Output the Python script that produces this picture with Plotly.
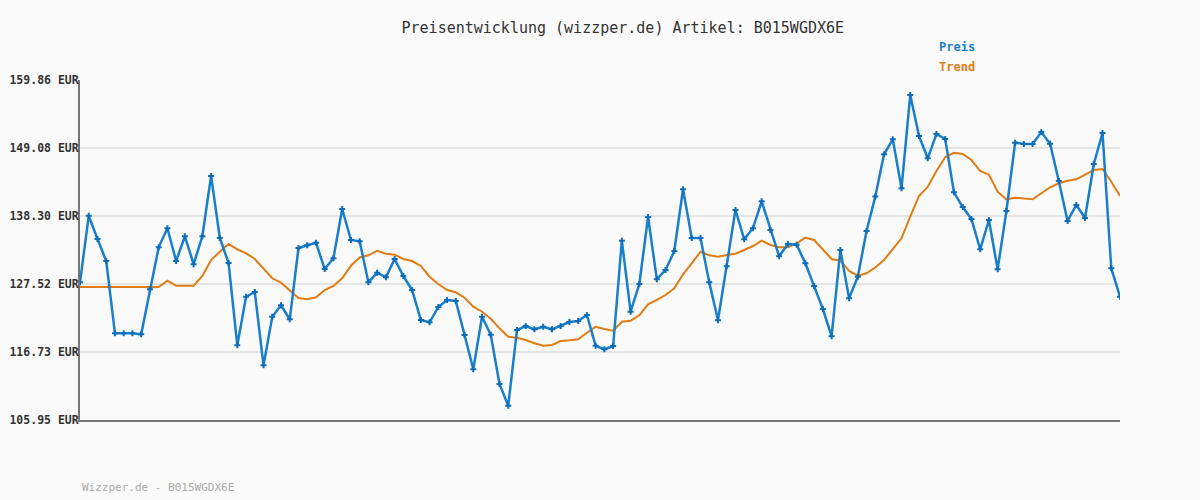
import plotly.graph_objects as go

preis = [127.78, 138.34, 134.65, 131.16, 119.70, 119.70, 119.70, 119.54, 126.67, 133.33,
         136.35, 131.16, 135.08, 130.64, 135.08, 144.64, 134.81, 130.84, 117.79, 125.50,
         126.25, 114.62, 122.33, 124.14, 121.92, 133.22, 133.65, 134.06, 129.89, 131.59,
         139.41, 134.49, 134.28, 127.78, 129.31, 128.58, 131.48, 128.78, 126.56, 121.81,
         121.44, 123.87, 124.98, 124.82, 119.43, 113.99, 122.33, 119.48, 111.66, 108.22,
         120.22, 120.85, 120.33, 120.74, 120.33, 120.85, 121.49, 121.65, 122.60, 117.73,
         117.16, 117.68, 134.38, 123.12, 127.51, 138.14, 128.28, 129.73, 132.75, 142.53,
         134.81, 134.81, 127.78, 121.76, 130.32, 139.25, 134.60, 136.35, 140.63, 136.08,
         131.91, 133.86, 133.75, 130.80, 127.20, 123.55, 119.22, 132.90, 125.25, 128.67,
         135.92, 141.39, 148.08, 150.46, 142.69, 157.48, 150.98, 147.44, 151.30, 150.50,
         142.05, 139.72, 137.82, 133.02, 137.66, 129.84, 139.09, 149.92, 149.71, 149.71,
         151.61, 149.76, 143.85, 137.50, 140.04, 137.98, 146.54, 151.46, 130.00, 125.50]

trend = [127.04, 127.04, 127.04, 127.04, 127.04, 127.04, 127.04, 127.04, 127.04, 127.04,
         128.04, 127.25, 127.25, 127.25, 128.78, 131.32, 132.63, 133.86, 133.02, 132.38,
         131.48, 130.01, 128.42, 127.72, 126.56, 125.29, 125.09, 125.41, 126.56, 127.20,
         128.42, 130.42, 131.72, 132.06, 132.79, 132.32, 132.16, 131.48, 131.16, 130.37,
         128.67, 127.52, 126.56, 126.20, 125.34, 123.91, 123.12, 122.01, 120.49, 119.16,
         119.00, 118.63, 118.11, 117.73, 117.84, 118.48, 118.59, 118.75, 119.79, 120.74,
         120.38, 120.11, 121.54, 121.70, 122.55, 124.29, 124.98, 125.77, 126.83, 129.05,
         130.80, 132.63, 132.06, 131.84, 132.11, 132.32, 132.90, 133.54, 134.38, 133.70,
         133.33, 133.33, 133.97, 134.86, 134.49, 133.02, 131.48, 131.21, 129.58, 128.83,
         129.21, 130.13, 131.32, 133.06, 134.76, 138.19, 141.47, 142.94, 145.43, 147.60,
         148.33, 148.13, 147.17, 145.43, 144.85, 142.15, 140.94, 141.20, 141.10, 140.94,
         141.90, 142.85, 143.48, 143.89, 144.12, 144.91, 145.59, 145.75, 143.73, 141.47]

y_ticks = [105.95, 116.73, 127.52, 138.30, 149.08, 159.86]
y_labels = [f"{v:.2f} EUR" for v in y_ticks]

title_text = "Preisentwicklung (wizzper.de) Artikel: B015WGDX6E"
footer_text = "Wizzper.de - B015WGDX6E"

x = list(range(1, len(preis) + 1))

BLUE = "#1a7fcb"
ORANGE = "#e07c12"
MONO = "DejaVu Sans Mono"

fig = go.Figure()
fig.add_trace(go.Scatter(x=x, y=trend, mode="lines", name="Trend",
                         line=dict(color=ORANGE, width=2)))
fig.add_trace(go.Scatter(x=x, y=preis, mode="lines+markers", name="Preis",
                         line=dict(color=BLUE, width=2.5),
                         marker=dict(symbol="cross", size=5, color="#0f6db8")))

fig.update_layout(
    width=1200, height=500,
    paper_bgcolor="#fafafa", plot_bgcolor="#fafafa",
    margin=dict(l=80, r=80, t=80, b=80, autoexpand=False),
    showlegend=False,
    title=dict(text=title_text, x=0.519, xanchor="center", y=1 - 28 / 500,
               yanchor="middle", yref="container",
               font=dict(family=MONO, size=15, color="#333333")),
    font=dict(family=MONO),
)
fig.update_xaxes(range=[1, len(preis)], showgrid=False, zeroline=False,
                 showticklabels=False, ticks="", automargin=False,
                 showline=True, linecolor="#777777", linewidth=2)
fig.update_yaxes(range=[y_ticks[0], y_ticks[-1]], tickvals=y_ticks, ticktext=y_labels,
                 showgrid=True, gridcolor="#e4e4e4", gridwidth=2, zeroline=False,
                 showline=True, linecolor="#777777", linewidth=2, automargin=False,
                 ticks="", ticklabelstandoff=-3,
                 tickfont=dict(family=MONO, size=11.5, color="#333333", weight="bold"))

fig.add_annotation(text="<b>Preis</b>", x=957, y=47, xref="paper", yref="paper",
                   showarrow=False, font=dict(family=MONO, size=12, color=BLUE))
fig.add_annotation(text="<b>Trend</b>", x=957, y=67, xref="paper", yref="paper",
                   showarrow=False, font=dict(family=MONO, size=12, color=ORANGE))
fig.add_annotation(text=footer_text, x=80, y=487, xref="paper", yref="paper",
                   xanchor="left", showarrow=False,
                   font=dict(family=MONO, size=11, color="#aaaaaa"))

# convert pixel positions to paper coords for annotations
for ann in fig.layout.annotations:
    px, py = ann.x, ann.y
    ann.x = (px - 80) / 1040
    ann.y = 1 - (py - 80) / 340
    ann.yanchor = "middle"
    if ann.xanchor is None:
        ann.xanchor = "center"

fig.write_html("out.html", config={"displayModeBar": False},
               post_script="document.body.style.margin='0';document.body.style.background='#fafafa';")
